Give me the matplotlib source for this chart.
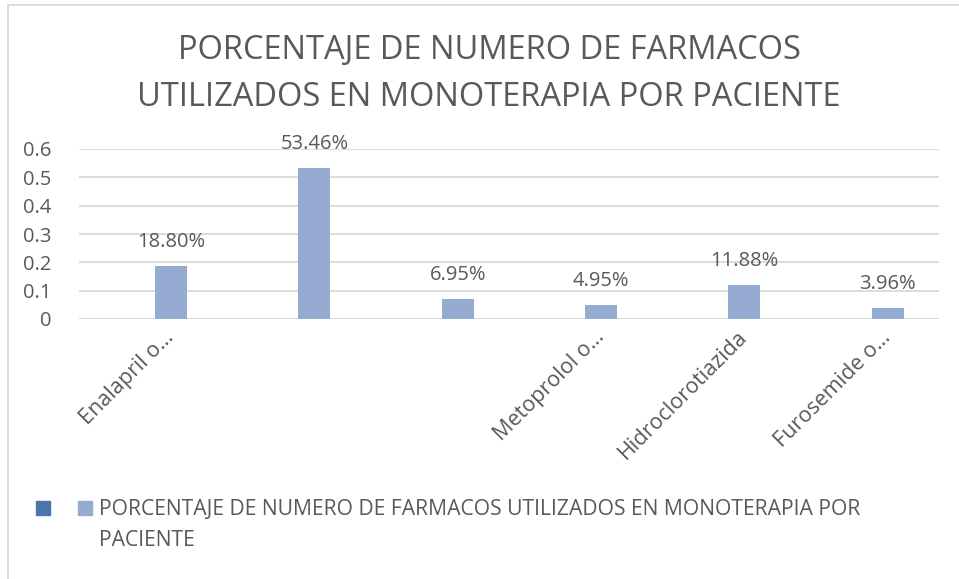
import matplotlib.pyplot as plt
from matplotlib.patches import Rectangle

plt.rcParams['font.family'] = ['Open Sans', 'DejaVu Sans']

titulo = "PORCENTAJE DE NUMERO DE FARMACOS\nUTILIZADOS EN MONOTERAPIA POR PACIENTE"
serie = "PORCENTAJE DE NUMERO DE FARMACOS UTILIZADOS EN MONOTERAPIA POR\nPACIENTE"

# nombres tal como se ven en el eje (Excel omite algunos)
farmacos = ["Enalapril o…", "", "", "Metoprolol o…", "Hidroclorotiazida", "Furosemide o…"]
porcentajes = [0.1880, 0.5346, 0.0695, 0.0495, 0.1188, 0.0396]
yticks = [0, 0.1, 0.2, 0.3, 0.4, 0.5, 0.6]

gris = "#595959"
azul = "#95abd1"

fig = plt.figure(figsize=(9.59, 5.79), dpi=100)
ax = fig.add_axes([79 / 959, 1 - 319 / 579, 860 / 959, 170 / 579])

# la primera serie (vacía) ocupa la mitad izquierda de cada grupo
x = list(range(len(farmacos)))
desplaz = 0.142
xb = [xi + desplaz for xi in x]
ax.bar(xb, porcentajes, width=0.223, color=azul, zorder=3)

for xi, v in zip(xb, porcentajes):
    ax.annotate(f"{v * 100:.2f}%", (xi, v), xytext=(0, 24), textcoords="offset pixels",
                ha="center", va="center", fontsize=14.5, color=gris)

ax.set_xlim(-0.5, len(farmacos) - 0.5)
ax.set_ylim(0, 0.6)
ax.set_yticks(yticks)
ax.set_yticklabels([f"{t:g}" for t in yticks], fontsize=14.5, color=gris)
ax.yaxis.grid(True, color="#d9d9d9", linewidth=1.3, zorder=0)
ax.set_xticks(xb)
ax.set_xticklabels(farmacos, rotation=45, ha="right", va="center",
                   rotation_mode="anchor", fontsize=15.5, color=gris)
ax.tick_params(axis="both", length=0)
ax.tick_params(axis="x", pad=11)
ax.tick_params(axis="y", pad=20)
for s in ax.spines.values():
    s.set_visible(False)
ax.axhline(0, color="#d9d9d9", linewidth=1.3, zorder=2)

fig.text(489 / 959, 1 - 74 / 579, titulo, ha="center", va="center",
         fontsize=23.5, color=gris, linespacing=1.55)

# leyenda
fig.add_artist(Rectangle((36 / 959, 1 - 515 / 579), 14 / 959, 14 / 579,
                         transform=fig.transFigure, color="#4a76ac"))
fig.add_artist(Rectangle((78 / 959, 1 - 515 / 579), 14 / 959, 14 / 579,
                         transform=fig.transFigure, color=azul))
fig.text(99 / 959, 1 - 499 / 579, serie, ha="left", va="top", fontsize=15.2,
         color=gris, linespacing=1.6)

# borde del gráfico
fig.add_artist(Rectangle((8 / 959, -0.1), 1.1, 1 - 5 / 579 + 0.1, transform=fig.transFigure,
                         fill=False, edgecolor="#d9d9d9", linewidth=1.3))

fig.savefig("out.png", dpi=100)
